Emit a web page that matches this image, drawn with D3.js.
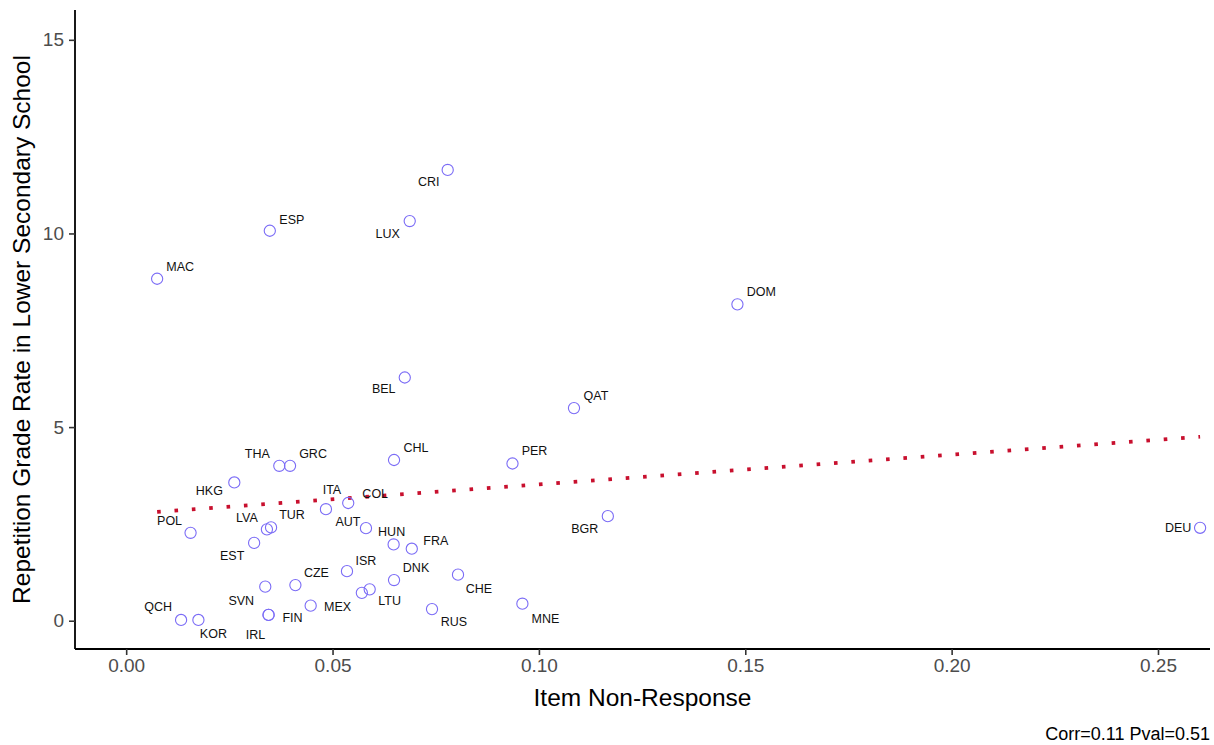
<!DOCTYPE html>
<html>
<head>
<meta charset="utf-8">
<script src="https://cdn.jsdelivr.net/npm/d3@7"></script>
<style>
	body { margin: 0; background: #fff; }
	svg { display: block; font-family: 'Liberation Sans', Arial, sans-serif; }
</style>
</head>
<body>
<svg id="chart" width="1214" height="745"></svg>
<script>
'use strict';

// data
const countries = ['MAC', 'ESP', 'CRI', 'LUX', 'DOM', 'BEL', 'QAT', 'THA', 'GRC', 'CHL', 'PER', 'HKG',
	'ITA', 'COL', 'POL', 'LVA', 'TUR', 'EST', 'AUT', 'HUN', 'FRA', 'BGR', 'DEU', 'ISR', 'DNK', 'CHE',
	'CZE', 'SVN', 'LTU', '', 'MEX', 'RUS', 'MNE', 'QCH', 'KOR', 'FIN', 'IRL'];
const nonResponse = [0.0075, 0.0348, 0.0779, 0.0687, 0.1481, 0.0675, 0.1085, 0.0371, 0.0397, 0.0649, 0.0936, 0.0262,
	0.0484, 0.0538, 0.0156, 0.0341, 0.0351, 0.0310, 0.0581, 0.0648, 0.0692, 0.1167, 0.2602, 0.0535, 0.0649, 0.0804,
	0.0410, 0.0337, 0.0590, 0.0571, 0.0447, 0.0741, 0.0960, 0.0133, 0.0175, 0.0345, 0.0345];
const repetition = [8.83, 10.07, 11.64, 10.32, 8.17, 6.28, 5.49, 4.00, 4.00, 4.15, 4.06, 3.57,
	2.88, 3.04, 2.27, 2.36, 2.41, 2.01, 2.39, 1.97, 1.86, 2.70, 2.40, 1.28, 1.05, 1.19,
	0.92, 0.88, 0.81, 0.72, 0.39, 0.30, 0.44, 0.02, 0.02, 0.15, 0.15];
// fitted line as drawn in the original (ends)
const trendX = [0.0075, 0.2602];
const trendY = [2.81, 4.75];
const xTicks = [0, 0.05, 0.10, 0.15, 0.20, 0.25];
const yTicks = [0, 5, 10, 15];
const statsNote = 'Corr=0.11 Pval=0.51';

// label nudges (px) so they sit like the repelled labels
const labelNudge = {
	MAC: [23, -12], ESP: [22, -11], CRI: [-19, 12], LUX: [-22, 13], DOM: [24, -12], BEL: [-21, 11],
	QAT: [22, -12], THA: [-22, -12], GRC: [23, -12], CHL: [22, -12], PER: [22, -12], HKG: [-25, 9],
	ITA: [6, -19], COL: [27, -9], POL: [-21, -12], LVA: [-20, -11], TUR: [21, -12], EST: [-22, 13],
	AUT: [-18, -6], HUN: [-2, -12], FRA: [24, -8], BGR: [-23, 13], DEU: [-22, 0], ISR: [19, -10],
	DNK: [22, -12], CHE: [21, 14], CZE: [21, -12], SVN: [-24, 14], LTU: [20, 12], MEX: [27, 1],
	RUS: [22, 13], MNE: [23, 15], QCH: [-23, -13], KOR: [15, 14], FIN: [24, 3], IRL: [-13, 20]
};

const points = countries.map((c, i) => ({name: c, x: nonResponse[i], y: repetition[i]}));

const svg = d3.select('#chart');
const m = {left: 75, right: 1210, top: 10, bottom: 649};

const x = d3.scaleLinear().domain([-0.0124, 0.2626]).range([m.left, m.right]);
const y = d3.scaleLinear().domain([-0.73, 15.77]).range([m.bottom, m.top]);

// trend line
svg.append('path')
	.datum(trendX.map((v, i) => [v, trendY[i]]))
	.attr('d', d3.line().x(d => x(d[0])).y(d => y(d[1])))
	.attr('fill', 'none')
	.attr('stroke', '#C8102E')
	.attr('stroke-width', 3.6)
	.attr('stroke-dasharray', '3.6 13.8');

// points
svg.append('g').selectAll('circle')
	.data(points)
	.join('circle')
	.attr('cx', d => x(d.x))
	.attr('cy', d => y(d.y))
	.attr('r', 5.6)
	.attr('fill', 'none')
	.attr('stroke', '#7b6cf6')
	.attr('stroke-width', 1.1);

svg.append('g').selectAll('text')
	.data(points.filter(d => d.name))
	.join('text')
	.attr('x', d => x(d.x) + labelNudge[d.name][0])
	.attr('y', d => y(d.y) + labelNudge[d.name][1])
	.attr('text-anchor', 'middle')
	.attr('dominant-baseline', 'central')
	.attr('font-size', 12.5)
	.attr('fill', '#111')
	.text(d => d.name);

// axes
const xAxis = svg.append('g')
	.attr('transform', `translate(0,${m.bottom})`)
	.call(d3.axisBottom(x).tickValues(xTicks).tickFormat(d3.format('.2f')).tickSize(6).tickPadding(4));
const yAxis = svg.append('g')
	.attr('transform', `translate(${m.left},0)`)
	.call(d3.axisLeft(y).tickValues(yTicks).tickFormat(d3.format('d')).tickSize(6).tickPadding(5));

[xAxis, yAxis].forEach(a => {
	a.select('.domain').attr('stroke', '#000').attr('stroke-width', 1.8);
	a.selectAll('.tick line').attr('stroke', '#333').attr('stroke-width', 1.6);
	a.selectAll('.tick text').attr('fill', '#4d4d4d').attr('font-size', 19)
		.attr('font-family', 'Liberation Sans, Arial, sans-serif');
});
xAxis.select('.domain').attr('d', `M${m.left},0H${m.right}`);
yAxis.select('.domain').attr('d', `M0,${m.top}V${m.bottom}`);

// titles
svg.append('text')
	.attr('x', (m.left + m.right) / 2)
	.attr('y', 706)
	.attr('text-anchor', 'middle')
	.attr('font-size', 24.5)
	.text('Item Non-Response');

svg.append('text')
	.attr('transform', `translate(30,${(m.top + m.bottom) / 2}) rotate(-90)`)
	.attr('text-anchor', 'middle')
	.attr('font-size', 24.5)
	.text('Repetition Grade Rate in Lower Secondary School');

svg.append('text')
	.attr('x', 1210)
	.attr('y', 740)
	.attr('text-anchor', 'end')
	.attr('font-size', 18)
	.text(statsNote);
</script>
</body>
</html>
